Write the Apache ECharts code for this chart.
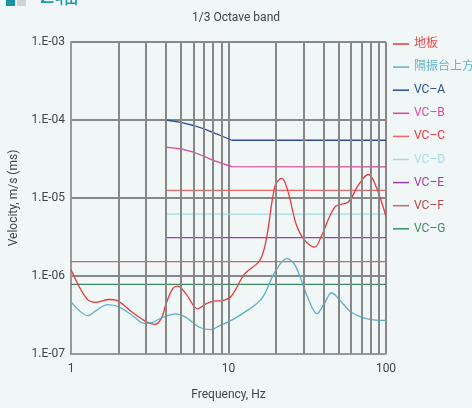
<!DOCTYPE html>
<html>
<head>
<meta charset="utf-8">
<title>Z轴</title>
<script src="https://cdn.jsdelivr.net/npm/echarts@6/dist/echarts.min.js"></script>
<style>
    html, body { margin: 0; padding: 0; background: #f1f6f6; }
    #main { width: 472px; height: 408px; }
</style>
</head>
<body>
<div id="main"></div>
<script>
// 地板
var floorFreq = [1, 1.25, 1.44, 1.75, 1.93, 2.46, 3.0, 3.38, 3.73, 4.0, 4.42, 4.75, 5.37, 6.37, 7.2, 8.1, 9.2, 10.4, 12.7, 15.8, 17.4, 19.8, 21.8, 23.9, 27.0, 30.5, 35.3, 39, 47.5, 57.6, 66.7, 77.3, 85, 100];
var floorVel = [1.21e-6, 5.2e-7, 4.6e-7, 5.0e-7, 4.9e-7, 3.4e-7, 2.6e-7, 2.4e-7, 2.8e-7, 4.3e-7, 6.9e-7, 7.4e-7, 5.9e-7, 3.8e-7, 4.4e-7, 4.75e-7, 4.85e-7, 5.5e-7, 1.07e-6, 1.58e-6, 3.0e-6, 1.46e-5, 1.78e-5, 1.2e-5, 4.5e-6, 2.86e-6, 2.35e-6, 3.3e-6, 7.7e-6, 8.9e-6, 1.46e-5, 2.0e-5, 1.53e-5, 5.8e-6];

// 隔振台上方
var tableFreq = [1, 1.28, 1.44, 1.71, 2.03, 2.46, 2.92, 3.3, 3.82, 4.64, 5.37, 6.53, 7.74, 8.73, 10.4, 12.2, 16.2, 19.7, 23.4, 26.5, 32.1, 36.4, 41, 45.1, 51.1, 60.6, 77.3, 100];
var tableVel = [4.7e-7, 3.1e-7, 3.6e-7, 4.3e-7, 4.0e-7, 3.1e-7, 2.47e-7, 2.55e-7, 2.95e-7, 3.27e-7, 2.95e-7, 2.2e-7, 2.05e-7, 2.3e-7, 2.7e-7, 3.27e-7, 5.1e-7, 1.12e-6, 1.67e-6, 1.37e-6, 5.1e-7, 3.3e-7, 4.6e-7, 6.1e-7, 4.85e-7, 3.4e-7, 2.8e-7, 2.7e-7];

// VC 曲线
var vcFreqAB = [4, 5, 6, 7, 8, 9.3, 10.5, 100];
var vcA = [1e-4, 9.3e-5, 8.5e-5, 7.7e-5, 6.9e-5, 6.1e-5, 5.5e-5, 5.5e-5];
var vcB = [4.5e-5, 4.27e-5, 3.86e-5, 3.43e-5, 3.04e-5, 2.73e-5, 2.52e-5, 2.5e-5];
var vcFreqCDE = [4, 100];
var vcC = [1.25e-5, 1.25e-5];
var vcD = [6.2e-6, 6.2e-6];
var vcE = [3.1e-6, 3.1e-6];
var vcFreqFG = [1, 100];
var vcF = [1.53e-6, 1.53e-6];
var vcG = [7.8e-7, 7.8e-7];

// 网格和刻度
var gridFreq = [2, 3, 4, 5, 6, 7, 8, 9, 20, 30, 40, 50, 60, 70, 80, 90];
var yTickLabels = ['1.E-07', '1.E-06', '1.E-05', '1.E-04', '1.E-03'];

var names = ['地板', '隔振台上方', 'VC–A', 'VC–B', 'VC–C', 'VC–D', 'VC–E', 'VC–F', 'VC–G'];
var lineColors = ['#e8393a', '#5ab2c6', '#2d4b9b', '#e0409b', '#f06464', '#a3dbe3', '#9c3fae', '#c46a6a', '#3e8a5f'];
var textColors = ['#ee4b4b', '#62b7c9', '#2c4c9c', '#e6449f', '#e8383d', '#a5dde5', '#a040b0', '#b04848', '#3e8c60'];

function pairs(xs, ys) {
    var out = [];
    xs.forEach(function (x, i) {
        out.push([x, ys[i]]);
    });
    return out;
}

var drawChart = function () {
    var myChart = echarts.init(document.getElementById('main'));

    var lineData = [
        pairs(floorFreq, floorVel),
        pairs(tableFreq, tableVel),
        pairs(vcFreqAB, vcA),
        pairs(vcFreqAB, vcB),
        pairs(vcFreqCDE, vcC),
        pairs(vcFreqCDE, vcD),
        pairs(vcFreqCDE, vcE),
        pairs(vcFreqFG, vcF),
        pairs(vcFreqFG, vcG)
    ];

    // 竖向网格线 (2..9, 20..90)
    var series = [{
        name: 'grid',
        type: 'line',
        z: 1,
        data: [[1, 1e-7]],
        symbol: 'none',
        lineStyle: { opacity: 0 },
        silent: true,
        markLine: {
            silent: true,
            symbol: ['none', 'none'],
            label: { show: false },
            lineStyle: { color: '#888', width: 2, type: 'solid' },
            data: gridFreq.map(function (f) { return { xAxis: f }; })
        }
    }];

    names.forEach(function (name, i) {
        series.push({
            name: name,
            type: 'line',
            data: lineData[i],
            symbol: 'none',
            smooth: i < 2 ? 0.35 : false,
            lineStyle: { color: lineColors[i], width: 1.3 },
            itemStyle: { color: lineColors[i] },
            z: i < 2 ? 4 : 3
        });
    });

    var option = {
        animation: false,
        backgroundColor: '#f1f6f6',
        textStyle: { fontFamily: 'Roboto, "Noto Sans CJK SC", sans-serif' },
        title: {
            text: '1/3 Octave band',
            left: 'center',
            top: 7,
            textStyle: { fontSize: 12, fontWeight: 'normal', color: '#444' }
        },
        graphic: [
            { type: 'rect', left: 6, top: 0, shape: { width: 9, height: 6 }, style: { fill: '#1a93a4' } },
            { type: 'rect', left: 17, top: 0, shape: { width: 9, height: 6 }, style: { fill: '#cfd4d4' } },
            {
                type: 'text', left: 40, top: -15,
                style: { text: 'Z轴', fill: '#1f9aab', font: '24px Roboto, "Noto Sans CJK SC", sans-serif' }
            }
        ],
        legend: {
            orient: 'vertical',
            left: 393,
            top: 37,
            padding: 0,
            itemGap: 9.1,
            itemWidth: 16,
            itemHeight: 1.5,
            icon: 'rect',
            textStyle: { fontSize: 12, lineHeight: 14 },
            data: names.map(function (n, i) {
                return { name: n, textStyle: { color: textColors[i] } };
            })
        },
        grid: { left: 71, right: 86, top: 42, bottom: 54 },
        xAxis: {
            type: 'log',
            logBase: 10,
            min: 1,
            max: 100,
            name: 'Frequency, Hz',
            nameLocation: 'middle',
            nameGap: 35,
            nameTextStyle: { fontSize: 12, color: '#444' },
            axisLine: { show: true, lineStyle: { color: '#999', width: 2 } },
            axisTick: { show: false },
            axisLabel: { fontSize: 12, color: '#444', margin: 9 },
            splitLine: { show: true, lineStyle: { color: '#888', width: 2 } },
            minorSplitLine: { show: false }
        },
        yAxis: {
            type: 'log',
            logBase: 10,
            min: 1e-7,
            max: 1e-3,
            name: 'Velocity, m/s (ms)',
            nameLocation: 'middle',
            nameGap: 51,
            nameTextStyle: { fontSize: 12, color: '#444' },
            axisLine: { show: true, lineStyle: { color: '#999', width: 2 } },
            axisTick: { show: false },
            axisLabel: {
                fontSize: 12,
                color: '#444',
                margin: 6,
                formatter: function (v) {
                    var k = Math.round(Math.log10(v)) + 7;
                    return yTickLabels[k];
                }
            },
            splitLine: { show: true, lineStyle: { color: '#888', width: 2 } }
        },
        series: series
    };

    myChart.setOption(option);
};

drawChart();
</script>
</body>
</html>
